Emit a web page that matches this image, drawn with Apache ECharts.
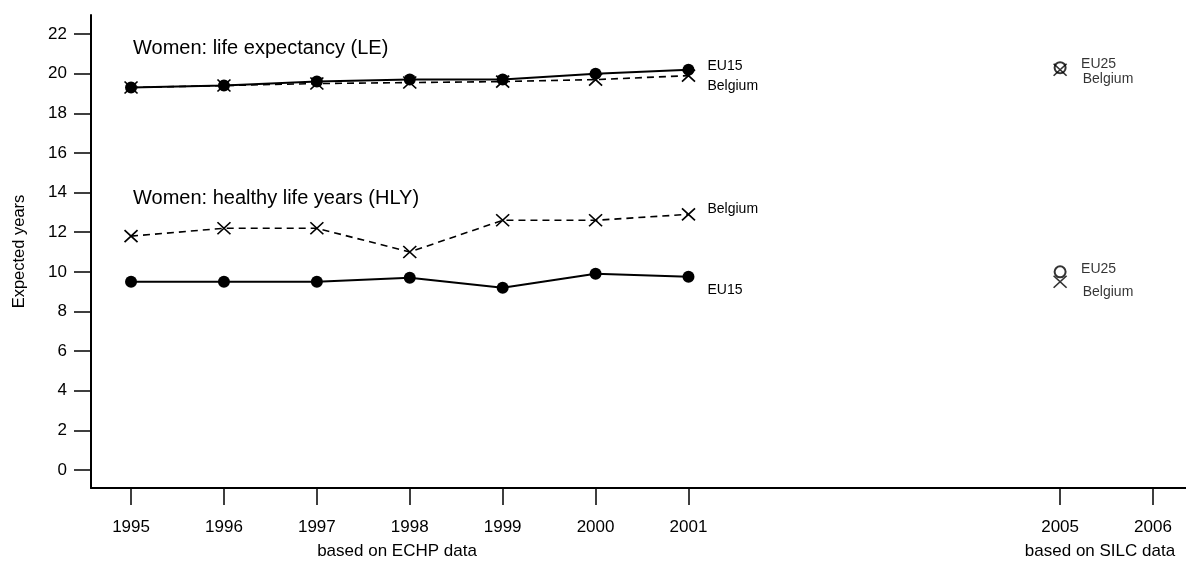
<!DOCTYPE html>
<html><head><meta charset="utf-8">
<script src="https://cdn.jsdelivr.net/npm/echarts@6/dist/echarts.min.js"></script>
<style>html,body{margin:0;padding:0;background:#fff}#c{width:1186px;height:563px}</style>
</head><body><div id="c"></div>
<script>
var years = [1995, 1996, 1997, 1998, 1999, 2000, 2001];
var leEU15 = [19.3, 19.4, 19.6, 19.7, 19.7, 20.0, 20.2];
var leBelgium = [19.3, 19.4, 19.5, 19.55, 19.6, 19.7, 19.9];
var hlyEU15 = [9.5, 9.5, 9.5, 9.7, 9.2, 9.9, 9.75];
var hlyBelgium = [11.8, 12.2, 12.2, 11.0, 12.6, 12.6, 12.9];
var silcYear = 2005;
var leEU25_2005 = 20.3, leBelgium_2005 = 20.2;
var hlyEU25_2005 = 10.0, hlyBelgium_2005 = 9.5;
var xTicks = [1995, 1996, 1997, 1998, 1999, 2000, 2001, 2005, 2006];
var yTicks = [0, 2, 4, 6, 8, 10, 12, 14, 16, 18, 20, 22];

var FONT = "'Liberation Sans', Arial, sans-serif";
var CROSS = 'path://M0,0L10,10M10,0L0,10';
function pairs(v){ return years.map(function(y,i){ return [y, v[i]]; }); }
function plain(v){ return String(v); }

function lineSeries(name, vals, solid, label, off){
  return {
    type: 'line', name: name, data: pairs(vals),
    symbol: solid ? 'circle' : CROSS,
    symbolSize: solid ? 12 : [13, 12],
    itemStyle: solid ? {color: '#000', borderColor: '#000', borderWidth: 0}
                     : {color: 'none', borderColor: '#000', borderWidth: 1.6},
    lineStyle: {color: '#000', width: solid ? 2 : 1.6, type: solid ? 'solid' : [7, 5]},
    endLabel: {show: true, formatter: label, offset: off, distance: 19,
               fontFamily: FONT, fontSize: 14, color: '#000'},
    z: solid ? 3 : 2, animation: false
  };
}
function pointSeries(name, val, circle, label, off){
  return {
    type: 'scatter', name: name, data: [[silcYear, val]],
    symbol: circle ? 'circle' : CROSS,
    symbolSize: circle ? 11 : [13, 12],
    itemStyle: circle ? {color: 'rgba(0,0,0,0)', borderColor: '#000', borderWidth: 2}
                      : {color: 'none', borderColor: '#000', borderWidth: 1.6},
    label: {show: true, position: 'right', formatter: label, offset: off, distance: circle ? 14.5 : 13.5,
            fontFamily: FONT, fontSize: 14, color: '#000'},
    z: circle ? 3 : 2,
    animation: false
  };
}

var chart = echarts.init(document.getElementById('c'));
chart.setOption({
  backgroundColor: '#fff',
  animation: false,
  grid: {left: 91, right: 0, top: 15, bottom: 75, outerBoundsMode: 'none', containLabel: false},
  xAxis: {
    type: 'value', min: 1994.569, max: 2006.355,
    splitLine: {show: false},
    axisLine: {show: true, onZero: false, lineStyle: {color: '#000', width: 2}},
    axisTick: {show: true, length: 17, lineStyle: {color: '#000', width: 1.5}, customValues: xTicks},
    axisLabel: {customValues: xTicks, formatter: plain, color: '#000', fontFamily: FONT, fontSize: 17, margin: 31}
  },
  yAxis: {
    type: 'value', min: -0.908, max: 22.96,
    name: 'Expected years', nameLocation: 'middle', nameGap: 63, nameRotate: 90,
    nameTextStyle: {color: '#000', fontFamily: FONT, fontSize: 16.5},
    splitLine: {show: false},
    axisLine: {show: true, onZero: false, lineStyle: {color: '#000', width: 2}},
    axisTick: {show: true, length: 17, lineStyle: {color: '#000', width: 1.5}, customValues: yTicks},
    axisLabel: {customValues: yTicks, formatter: plain, color: '#000', fontFamily: FONT, fontSize: 17, margin: 24}
  },
  graphic: [
    {type: 'text', x: 133, y: 48.5, style: {text: 'Women: life expectancy (LE)', font: '20px ' + FONT, fill: '#000', verticalAlign: 'middle'}},
    {type: 'text', x: 133, y: 198.5, style: {text: 'Women: healthy life years (HLY)', font: '20px ' + FONT, fill: '#000', verticalAlign: 'middle'}},
    {type: 'text', x: 397, y: 551, style: {text: 'based on ECHP data', font: '17px ' + FONT, fill: '#000', align: 'center', verticalAlign: 'middle'}},
    {type: 'text', x: 1100, y: 551, style: {text: 'based on SILC data', font: '17px ' + FONT, fill: '#000', align: 'center', verticalAlign: 'middle'}}
  ],
  series: [
    lineSeries('LE Belgium', leBelgium, false, 'Belgium', [0, 10]),
    lineSeries('LE EU15', leEU15, true, 'EU15', [0, -4]),
    lineSeries('HLY Belgium', hlyBelgium, false, 'Belgium', [0, -5]),
    lineSeries('HLY EU15', hlyEU15, true, 'EU15', [0, 13]),
    pointSeries('LE EU25 2005', leEU25_2005, true, 'EU25', [0, -4]),
    pointSeries('LE Belgium 2005', leBelgium_2005, false, 'Belgium', [0, 9]),
    pointSeries('HLY EU25 2005', hlyEU25_2005, true, 'EU25', [0, -3]),
    pointSeries('HLY Belgium 2005', hlyBelgium_2005, false, 'Belgium', [0, 10])
  ]
});
</script></body></html>
